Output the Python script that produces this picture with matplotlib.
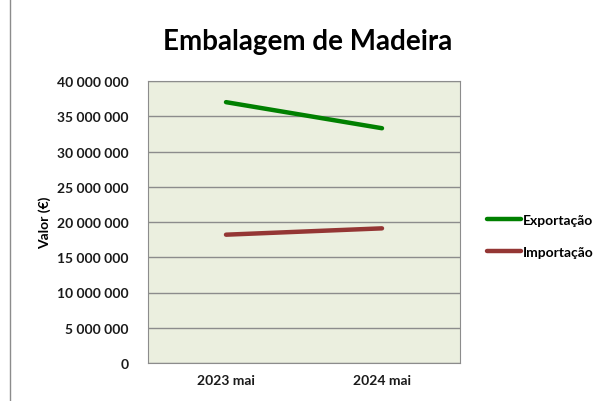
import matplotlib.pyplot as plt
from matplotlib.ticker import FuncFormatter
from matplotlib.lines import Line2D

plt.rcParams['font.family'] = ['Lato', 'DejaVu Sans']
plt.rcParams['font.weight'] = 'bold'

periodos = ['2023 mai', '2024 mai']
exportacao = [37000000, 33300000]
importacao = [18200000, 19100000]

fig = plt.figure(figsize=(6.15, 4.02), dpi=100)
ax = fig.add_axes([148 / 615, 1 - 364 / 402, 312 / 615, 282 / 402])
ax.set_facecolor('#ebefdf')

x = range(len(periodos))
ax.plot(x, exportacao, color='#008000', lw=3.2, solid_capstyle='round', label='Exportação')
ax.plot(x, importacao, color='#943634', lw=3.2, solid_capstyle='round', label='Importação')

ax.set_xlim(-0.5, 1.5)
ax.set_ylim(0, 40000000)
ax.set_yticks(range(0, 40000001, 5000000))
ax.yaxis.set_major_formatter(FuncFormatter(lambda v, p: f'{int(v):,}'.replace(',', ' ')))
ax.set_xticks(list(x))
ax.set_xticklabels(periodos)
ax.tick_params(axis='both', length=0, labelsize=10, labelcolor='#1a1a1a')
ax.tick_params(axis='y', pad=14)
ax.tick_params(axis='x', pad=8)
for lbl in ax.get_xticklabels() + ax.get_yticklabels():
    lbl.set_fontweight('bold')
ax.grid(axis='y', color='#8c8c8c', lw=1)
ax.set_axisbelow(True)
for s in ax.spines.values():
    s.set_color('#8c8c8c')

ax.set_ylabel('Valor (€)', fontsize=10, fontweight='bold', labelpad=4)
fig.text(0.5, 0.875, 'Embalagem de Madeira', ha='center', fontsize=20, fontweight='bold')

leg = fig.legend(loc='center left', bbox_to_anchor=(474 / 615, 1 - 237 / 402), frameon=False,
                 fontsize=10, handlelength=2.5, handletextpad=0.1, labelspacing=1.4)
for t in leg.get_texts():
    t.set_fontweight('bold')

fig.add_artist(Line2D([10 / 615, 10 / 615], [0, 1], color='#8c8c8c', lw=1))

fig.savefig('out.png', dpi=100)
